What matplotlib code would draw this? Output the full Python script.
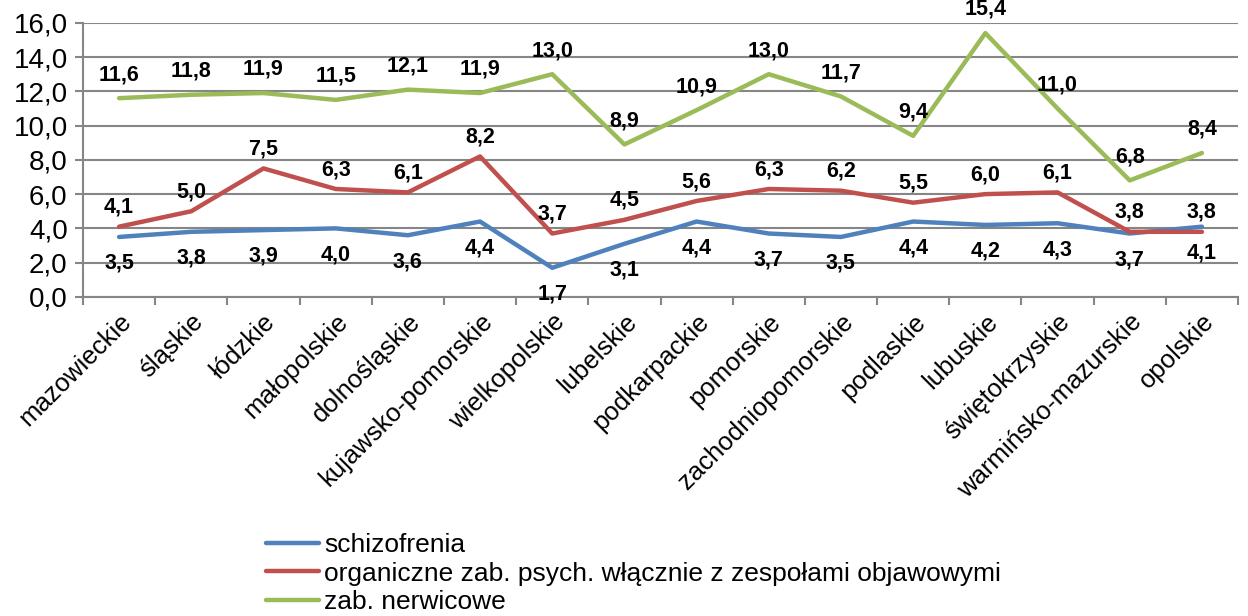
import matplotlib
matplotlib.use('Agg')
import matplotlib.pyplot as plt
import numpy as np

plt.rcParams['font.family'] = ['Liberation Sans', 'DejaVu Sans']

wojewodztwa = ['mazowieckie', 'śląskie', 'łódzkie', 'małopolskie', 'dolnośląskie',
               'kujawsko-pomorskie', 'wielkopolskie', 'lubelskie', 'podkarpackie',
               'pomorskie', 'zachodniopomorskie', 'podlaskie', 'lubuskie',
               'świętokrzyskie', 'warmińsko-mazurskie', 'opolskie']
schizofrenia = [3.5, 3.8, 3.9, 4.0, 3.6, 4.4, 1.7, 3.1, 4.4, 3.7, 3.5, 4.4, 4.2, 4.3, 3.7, 4.1]
organiczne = [4.1, 5.0, 7.5, 6.3, 6.1, 8.2, 3.7, 4.5, 5.6, 6.3, 6.2, 5.5, 6.0, 6.1, 3.8, 3.8]
nerwicowe = [11.6, 11.8, 11.9, 11.5, 12.1, 11.9, 13.0, 8.9, 10.9, 13.0, 11.7, 9.4, 15.4, 11.0, 6.8, 8.4]

series = [
    ('schizofrenia', schizofrenia, '#4F81BD', -19),
    ('organiczne zab. psych. włącznie z zespołami objawowymi', organiczne, '#C0504D', 14),
    ('zab. nerwicowe', nerwicowe, '#9BBB59', 17),
]

fig = plt.figure(figsize=(12.48, 6.16), dpi=100)
ax = fig.add_axes([0.0665, 0.518, 0.9255, 0.445])

x = np.arange(len(wojewodztwa))
for name, vals, col, off in series:
    ax.plot(x, vals, color=col, lw=3.2, label=name, solid_capstyle='round')
    for xi, v in zip(x, vals):
        ax.annotate(f'{v:.1f}'.replace('.', ','), (xi, v), xytext=(0, off),
                    textcoords='offset points', ha='center', va='center',
                    fontsize=15.5, fontweight='bold')

ax.set_xlim(-0.5, len(wojewodztwa) - 0.5)
ax.set_ylim(0, 16)
ax.set_yticks(np.arange(0, 17, 2))
ax.set_yticklabels([f'{t:.1f}'.replace('.', ',') for t in np.arange(0, 17, 2)], fontsize=20)
ax.set_xticks(x)
ax.set_xticklabels(wojewodztwa, rotation=45, ha='right', va='top',
                   rotation_mode='anchor', fontsize=18.5)
ax.set_xticks(np.arange(-0.5, len(wojewodztwa)), minor=True)
ax.tick_params(axis='x', which='major', length=0, pad=9)
ax.tick_params(axis='x', which='minor', length=6, width=1.5, color='#868686')
ax.tick_params(axis='y', length=6, width=1.5, color='#868686', pad=5)

ax.grid(axis='y', color='#868686', lw=1.5)
ax.set_axisbelow(True)
for s in ['top', 'right']:
    ax.spines[s].set_visible(False)
for s in ['left', 'bottom']:
    ax.spines[s].set_color('#868686')
    ax.spines[s].set_linewidth(1.5)

fig.legend(loc='upper left', bbox_to_anchor=(0.213, 0.134), frameon=False,
           fontsize=19, handlelength=2.0, handletextpad=0.2, labelspacing=0.16,
           borderpad=0, borderaxespad=0)

fig.savefig('out.png', dpi=100)
